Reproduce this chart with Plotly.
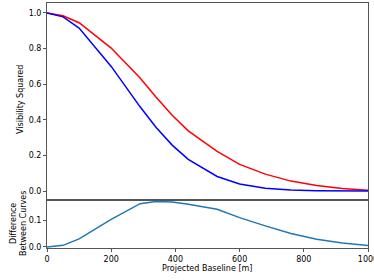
import plotly.graph_objects as go
from plotly.subplots import make_subplots

baseline = [0, 50, 100, 200, 290, 340, 390, 440, 530, 600, 680, 760, 840, 920, 1000]
vis_red = [1.0, 0.984, 0.945, 0.803, 0.635, 0.527, 0.426, 0.338, 0.223, 0.150, 0.095, 0.056, 0.031, 0.015, 0.005]
vis_blue = [1.0, 0.978, 0.915, 0.700, 0.473, 0.357, 0.258, 0.178, 0.082, 0.040, 0.016, 0.006, 0.002, 0.0005, 0.0]
difference = [r - b for r, b in zip(vis_red, vis_blue)]

x_ticks = [0, 200, 400, 600, 800, 1000]
top_ticks = [0.0, 0.2, 0.4, 0.6, 0.8, 1.0]
bottom_ticks = [0.0, 0.1]

W, H = 374, 280
L, R, T, B = 47, 6, 3, 32

fig = make_subplots(rows=2, cols=1, shared_xaxes=True, vertical_spacing=0,
                    row_heights=[0.804, 0.196])

fig.add_trace(go.Scatter(x=baseline, y=vis_red, mode="lines",
                         line=dict(color="#ff0000", width=1.5)), row=1, col=1)
fig.add_trace(go.Scatter(x=baseline, y=vis_blue, mode="lines",
                         line=dict(color="#0000ff", width=1.5)), row=1, col=1)
fig.add_trace(go.Scatter(x=baseline, y=difference, mode="lines",
                         line=dict(color="#1f77b4", width=1.5)), row=2, col=1)

font = dict(family="DejaVu Sans", size=8, color="black")
axis_common = dict(showline=True, linecolor="#555", linewidth=1, mirror=True,
                   showgrid=False, zeroline=False, ticks="outside", ticklen=3,
                   tickcolor="#555", tickfont=font, automargin=False,
                   ticklabeloverflow="allow")

fig.update_xaxes(range=[0, 1000], tickvals=x_ticks, **axis_common)
fig.update_xaxes(showticklabels=False, ticks="", row=1, col=1)
fig.update_yaxes(range=[-0.05, 1.056], tickvals=top_ticks,
                 ticktext=["0.0", "0.2", "0.4", "0.6", "0.8", "1.0"],
                 row=1, col=1, **axis_common)
fig.update_yaxes(range=[-0.004, 0.176], tickvals=bottom_ticks,
                 ticktext=["0.0", "0.1"],
                 row=2, col=1, **axis_common)

def px_x(p):
    return (p - L) / (W - L - R)

def px_y(p):
    return 1 - (p - T) / (H - T - B)

annotations = [
    dict(text="Visibility Squared", x=px_x(20), y=px_y(100), textangle=-90),
    dict(text="Difference<br>Between Curves", x=px_x(18), y=px_y(224), textangle=-90),
    dict(text="Projected Baseline [m]", x=px_x(207), y=px_y(268)),
]
for a in annotations:
    fig.add_annotation(xref="paper", yref="paper", showarrow=False,
                       xanchor="center", yanchor="middle", font=font, **a)

fig.update_layout(width=W, height=H, showlegend=False,
                  margin=dict(l=L, r=R, t=T, b=B),
                  plot_bgcolor="white", paper_bgcolor="white", font=font)

fig.write_html("out.html", config={"displayModeBar": False},
               post_script="document.body.style.margin='0';document.body.style.overflow='hidden';")
